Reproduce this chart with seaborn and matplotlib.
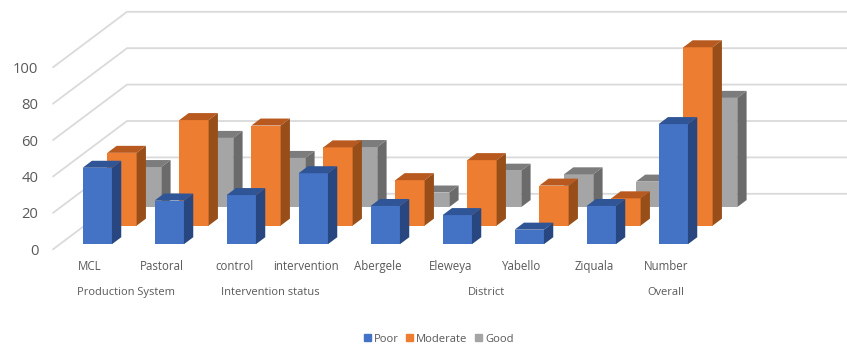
import numpy as np
import pandas as pd
import matplotlib
matplotlib.use("Agg")
import matplotlib.pyplot as plt
from matplotlib.patches import Patch
import seaborn as sns

categories = ["MCL", "Pastoral", "control", "intervention", "Abergele",
              "Eleweya", "Yabello", "Ziquala", "Number"]
groups = ["Production System", "Intervention status", "District", "Overall"]
group_members = [[0, 1], [2, 3], [4, 5, 6, 7], [8]]
poor = [42, 24, 27, 39, 21, 16, 8, 21, 66]
moderate = [40, 58, 55, 43, 25, 36, 22, 15, 98]
good = [22, 38, 27, 33, 8, 20, 18, 14, 60]
value_ticks = [0, 20, 40, 60, 80, 100]

W, H = 847, 347
PX_PER_UNIT = 1.82
PX_PER_CAT = 72.0
ORIGIN_X = 97.3          # pixel centre of the first front-row bar
LEFT, BASE = 53.0, 249.3  # pixel position of the plot origin

# Depth projection, in data units
WALL_DX = (127 - LEFT) / PX_PER_CAT
WALL_DY = 55.5 / PX_PER_UNIT
BAR_W = 29.3 / PX_PER_CAT
BAR_DX = 9.3 / PX_PER_CAT
BAR_DY = 7.0 / PX_PER_UNIT
ROW_DX = 24.67 / PX_PER_CAT

# Back row first so nearer rows paint over it
rows = [
    ("Good", good, 2, 23.2, "#A5A5A5", "#7C7C7C", "#6B6B6B"),
    ("Moderate", moderate, 1, 13.0, "#ED7D31", "#B85A1F", "#984E19"),
    ("Poor", poor, 0, 2.8, "#4472C4", "#2F5597", "#284780"),
]

sns.set_theme(style="white")
plt.rcParams["font.family"] = ["Open Sans", "DejaVu Sans"]
TEXT = "#595959"
GRID = "#DADADA"

fig = plt.figure(figsize=(W / 100, H / 100), dpi=100, facecolor="white")
ax = fig.add_axes([LEFT / W, 1 - BASE / H, 1 - LEFT / W, BASE / H])
x_min = (LEFT - ORIGIN_X) / PX_PER_CAT
x_max = (W - ORIGIN_X) / PX_PER_CAT
y_max = BASE / PX_PER_UNIT

# Left wall and back wall gridlines
for v in value_ticks:
    ax.plot([x_min, x_min + WALL_DX, x_max], [v, v + WALL_DY, v + WALL_DY],
            color=GRID, lw=1.3, zorder=0, clip_on=False, solid_joinstyle="miter")

idx = np.arange(len(categories))
for z, (name, vals, row, lift, front, top, side) in enumerate(rows, start=1):
    vals = np.asarray(vals, float)
    xs = idx + row * ROW_DX
    df = pd.DataFrame({"x": xs, "value": vals})
    sns.barplot(data=df, x="x", y="value", native_scale=True, ax=ax, color=front,
                saturation=1, width=BAR_W, bottom=lift, linewidth=0,
                errorbar=None, zorder=z)
    for xc, v in zip(xs, vals):
        l, r, t = xc - BAR_W / 2, xc + BAR_W / 2, lift + v
        ax.fill([l, r, r + BAR_DX, l + BAR_DX], [t, t, t + BAR_DY, t + BAR_DY],
                color=top, lw=0, zorder=z)
        ax.fill([r, r + BAR_DX, r + BAR_DX, r],
                [lift, lift + BAR_DY, t + BAR_DY, t],
                color=side, lw=0, zorder=z)

ax.set_xlim(x_min, x_max)
ax.set_ylim(0, y_max)
ax.set_xlabel("")
ax.set_ylabel("")
sns.despine(ax=ax, left=True, bottom=True)

ax.set_yticks(value_ticks)
ax.set_yticklabels([str(v) for v in value_ticks])
ax.tick_params(axis="y", length=0, pad=10.5, labelsize=10.6, labelcolor=TEXT)

label_shift = -0.1
ax.set_xticks(idx + label_shift)
ax.set_xticklabels(categories)
ax.tick_params(axis="x", length=0, pad=8, labelsize=8.3, labelcolor=TEXT)

# Second tier of the category axis
tier = ax.get_xaxis_transform()
for name, members in zip(groups, group_members):
    ax.text(np.mean(members) + label_shift, -43.4 / BASE, name, transform=tier,
            ha="center", va="center", fontsize=8.05, color=TEXT, clip_on=False)

handles = [Patch(color=r[4], label=r[0]) for r in reversed(rows)]
fig.legend(handles=handles, loc="center", bbox_to_anchor=(438.5 / W, 1 - 339.2 / H),
           ncol=3, frameon=False, fontsize=8.1, labelcolor=TEXT,
           handlelength=0.62, handleheight=0.62, handletextpad=0.3,
           columnspacing=0.62, borderpad=0, borderaxespad=0)

fig.savefig("out.png", dpi=100, facecolor="white")
